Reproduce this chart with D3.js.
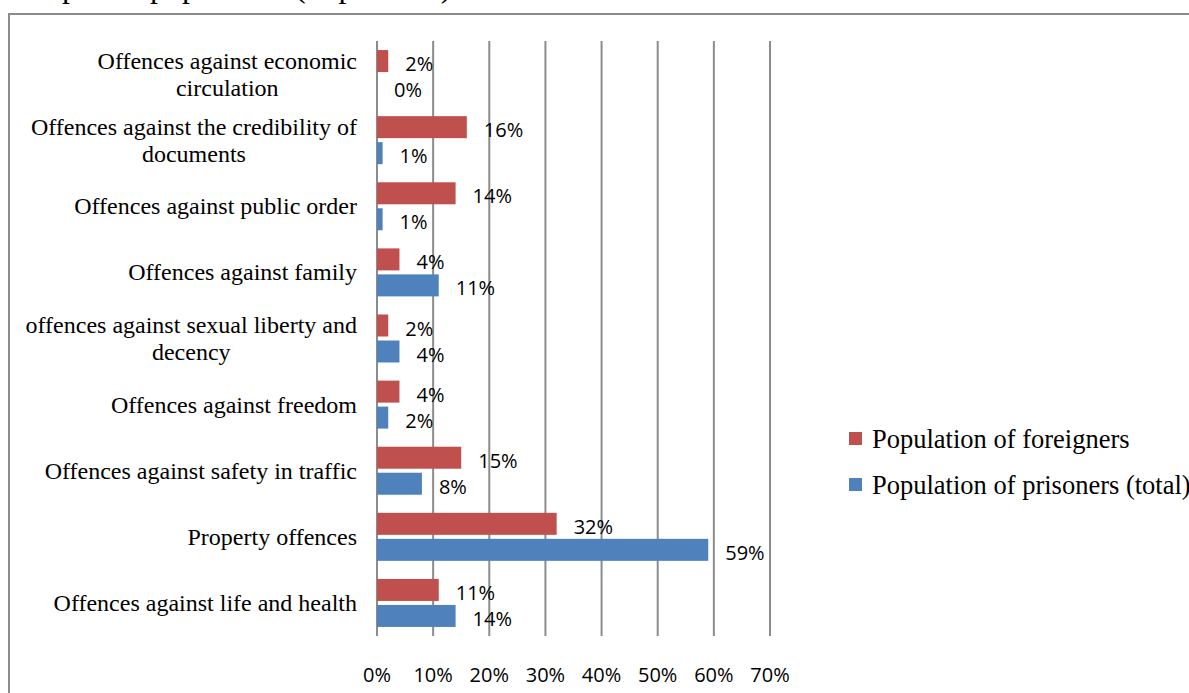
<!DOCTYPE html>
<html>
<head>
<meta charset="utf-8">
<script src="https://cdn.jsdelivr.net/npm/d3@7"></script>
<style>
  html, body { margin: 0; padding: 0; background: #fff; }
  svg { display: block; }
  .cat { font-family: "Liberation Serif", "Times New Roman", serif; font-size: 24px; fill: #000; }
  .val { font-family: "Open Sans", sans-serif; font-size: 20px; fill: #000; }
  .leg { font-family: "Liberation Serif", "Times New Roman", serif; font-size: 26.5px; fill: #000; }
</style>
</head>
<body>
<svg id="chart" width="1189" height="693"></svg>
<script>
// categories top to bottom, each split into its printed lines
var categories = [
  ["Offences against economic", "circulation"],
  ["Offences against the credibility of", "documents"],
  ["Offences against public order"],
  ["Offences against family"],
  ["offences against sexual liberty and", "decency"],
  ["Offences against freedom"],
  ["Offences against safety in traffic"],
  ["Property offences"],
  ["Offences against life and health"]
];
var foreigners = [2, 16, 14, 4, 2, 4, 15, 32, 11];
var prisoners  = [0, 1, 1, 11, 4, 2, 8, 59, 14];
var seriesNames = ["Population of foreigners", "Population of prisoners (total)"];
var seriesColors = ["#C0504D", "#4F81BD"];
var xTicks = [0, 10, 20, 30, 40, 50, 60, 70];
var title = "the prison population (in per cent)";

var svg = d3.select("#chart");

// caption, cut by the top edge as in the page it came from
svg.append("text")
  .attr("x", 15).attr("y", -3)
  .attr("class", "cat")
  .style("font-size", "32px")
  .text(title);

// outer frame (runs off the right and bottom)
svg.append("rect")
  .attr("x", 9).attr("y", 14)
  .attr("width", 1200).attr("height", 700)
  .attr("fill", "none")
  .attr("stroke", "#8c8c8c")
  .attr("stroke-width", 2);

var x = d3.scaleLinear().domain([0, 70]).range([377, 770]);
var y = d3.scaleBand()
  .domain(d3.range(categories.length))
  .range([41, 636])
  .paddingInner(0.27)
  .paddingOuter(0.135);
var barH = 22, gap = 4;

// vertical gridlines
svg.append("g").selectAll("line")
  .data(xTicks)
  .join("line")
  .attr("x1", d => x(d)).attr("x2", d => x(d))
  .attr("y1", 41).attr("y2", 636)
  .attr("stroke", "#8c8c8c")
  .attr("stroke-width", 2);

// x tick labels
svg.append("g").selectAll("text")
  .data(xTicks)
  .join("text")
  .attr("class", "val")
  .attr("x", d => x(d))
  .attr("y", 682)
  .attr("text-anchor", "middle")
  .text(d => d + "%");

function center(i) { return y(i) + y.bandwidth() / 2; }

var series = [foreigners, prisoners];
series.forEach(function(vals, s) {
  var g = svg.append("g");
  var top = function(i) { return s === 0 ? center(i) - gap / 2 - barH : center(i) + gap / 2; };
  g.selectAll("rect")
    .data(vals)
    .join("rect")
    .attr("x", x(0))
    .attr("y", (d, i) => top(i))
    .attr("width", d => x(d) - x(0))
    .attr("height", barH)
    .attr("fill", seriesColors[s]);
  g.selectAll("text")
    .data(vals)
    .join("text")
    .attr("class", "val")
    .attr("x", d => x(d) + 17)
    .attr("y", (d, i) => top(i) + barH / 2 + 10)
    .text(d => d + "%");
});

// category labels, right aligned block, lines centred in it
var labelRight = 357, lineH = 27;
categories.forEach(function(lines, i) {
  var g = svg.append("g");
  var t = g.selectAll("text")
    .data(lines)
    .join("text")
    .attr("class", "cat")
    .text(d => d);
  var w = d3.max(t.nodes(), n => n.getComputedTextLength());
  var c = center(i);
  var y0 = c - (lines.length - 1) * lineH / 2;
  t.attr("x", labelRight - w / 2)
    .attr("text-anchor", "middle")
    .attr("y", (d, k) => y0 + k * lineH + 8);
});

// legend
var legend = svg.append("g");
seriesNames.forEach(function(name, s) {
  var ly = 439 + s * 46;
  legend.append("rect")
    .attr("x", 849).attr("y", ly - 7)
    .attr("width", 13).attr("height", 13)
    .attr("fill", seriesColors[s]);
  legend.append("text")
    .attr("class", "leg")
    .attr("x", 872).attr("y", ly + 9)
    .text(name);
});
</script>
</body>
</html>
